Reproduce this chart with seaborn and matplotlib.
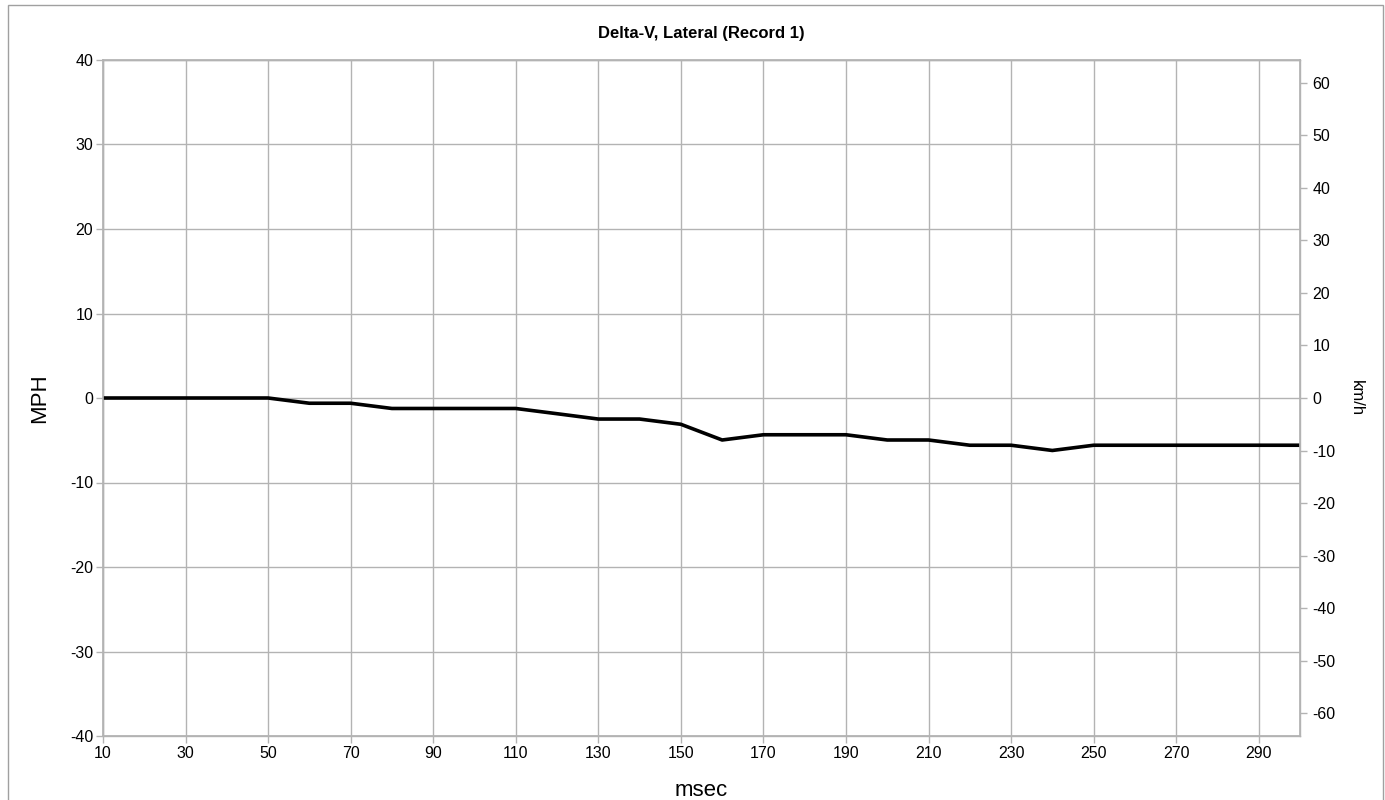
import matplotlib
matplotlib.use("Agg")
import matplotlib.pyplot as plt
import seaborn as sns
import pandas as pd
from matplotlib.patches import Rectangle

msec = [10, 20, 30, 40, 50, 60, 70, 80, 90, 100, 110, 120, 130, 140, 150,
        160, 170, 180, 190, 200, 210, 220, 230, 240, 250, 260, 270, 280, 290, 300]
mph = [0, 0, 0, 0, 0, -0.62, -0.62, -1.24, -1.24, -1.24, -1.24, -1.86, -2.49, -2.49, -3.11,
       -4.97, -4.35, -4.35, -4.35, -4.97, -4.97, -5.59, -5.59, -6.21, -5.59, -5.59, -5.59, -5.59, -5.59, -5.59]
x_ticks = [10, 30, 50, 70, 90, 110, 130, 150, 170, 190, 210, 230, 250, 270, 290]
y_ticks = [-40, -30, -20, -10, 0, 10, 20, 30, 40]
kmh_ticks = [-60, -50, -40, -30, -20, -10, 0, 10, 20, 30, 40, 50, 60]
title = "Delta-V, Lateral (Record 1)"

sns.set_theme(style="white")
plt.rcParams['font.family'] = ['Liberation Sans', 'DejaVu Sans']
plt.rcParams['axes.unicode_minus'] = False
plt.rcParams['text.color'] = 'black'
plt.rcParams['axes.labelcolor'] = 'black'

df = pd.DataFrame({"msec": msec, "mph": mph})

fig = plt.figure(figsize=(13.85, 8.0), dpi=100)
fig.patches.append(Rectangle((8 / 1385, -0.01), 1375 / 1385, 1 - 5 / 800 + 0.01,
                             transform=fig.transFigure, fill=False,
                             edgecolor="#a0a0a0", linewidth=1.0, zorder=0))
ax = fig.add_axes([103 / 1385, 1 - 736 / 800, (1300 - 103) / 1385, (736 - 60) / 800])

sns.lineplot(data=df, x="msec", y="mph", ax=ax, color="black", linewidth=2.6, zorder=3)

ax.set_xlim(10, 300)
ax.set_ylim(-40, 40)
ax.set_xticks(x_ticks)
ax.set_yticks(y_ticks)
ax.grid(True, color="#b3b3b3", linewidth=1.0)
for s in ax.spines.values():
    s.set_color("#b3b3b3")
    s.set_linewidth(1.0)
ax.tick_params(axis="both", which="both", direction="out", length=5, width=1,
               color="#b3b3b3", labelsize=11.5, labelcolor="black", pad=2,
               bottom=True, left=True)
ax.set_xlabel("msec", fontsize=16, labelpad=14)
ax.set_ylabel("MPH", fontsize=16, labelpad=14)
ax.set_title(title, fontsize=12, fontweight="bold", pad=16, color="black")

ax2 = ax.twinx()
ax2.set_ylim(-40 * 1.609344, 40 * 1.609344)
ax2.set_yticks(kmh_ticks)
ax2.tick_params(axis="y", direction="out", length=5, width=1, color="#b3b3b3",
                labelsize=11.5, labelcolor="black", pad=4, right=True)
for s in ax2.spines.values():
    s.set_color("#b3b3b3")
ax2.set_ylabel("km/h", fontsize=12, rotation=-90, labelpad=20)
ax2.grid(False)

fig.savefig("out.png", dpi=100)
